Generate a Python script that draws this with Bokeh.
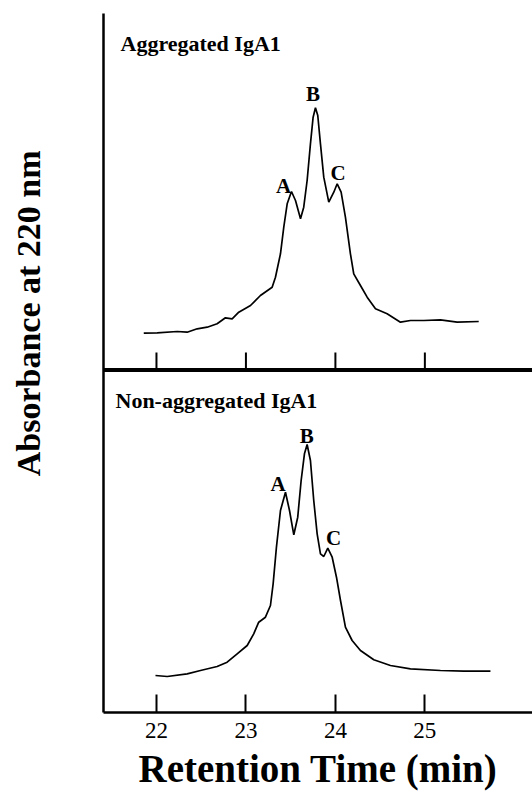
import math
from bokeh.plotting import figure
from bokeh.layouts import row
from bokeh.models import Range1d, FixedTicker, Span
from bokeh.core.properties import value
from bokeh.embed import file_html
from bokeh.resources import INLINE

# ---- data (retention time in min, absorbance at 220 nm in relative units) ----
agg_time = [21.858, 22.008, 22.231, 22.343, 22.455, 22.567, 22.678, 22.771, 22.846,
            22.920, 23.051, 23.162, 23.293, 23.330, 23.386, 23.423, 23.461, 23.509,
            23.554, 23.610, 23.646, 23.684, 23.721, 23.751, 23.777, 23.803, 23.833,
            23.870, 23.926, 23.982, 24.020, 24.064, 24.112, 24.168, 24.205, 24.280,
            24.355, 24.448, 24.578, 24.727, 24.839, 24.988, 25.174, 25.361, 25.602]
agg_abs = [36.3, 36.7, 38.0, 37.3, 40.7, 42.3, 45.7, 51.7, 50.7,
           57.3, 64.0, 74.0, 82.3, 92.3, 115.7, 142.3, 165.7, 178.0,
           169.0, 150.7, 162.3, 189.0, 225.7, 252.3, 261.7, 254.0, 225.7,
           192.3, 167.3, 177.3, 185.7, 177.3, 152.3, 115.7, 95.7, 84.0,
           72.3, 60.7, 55.7, 47.3, 49.0, 49.0, 49.7, 47.3, 48.0]

nonagg_time = [21.989, 22.120, 22.343, 22.492, 22.678, 22.790, 22.902, 23.014, 23.087,
               23.143, 23.218, 23.274, 23.304, 23.341, 23.386, 23.442, 23.487, 23.535,
               23.579, 23.617, 23.654, 23.684, 23.721, 23.758, 23.796, 23.833, 23.870,
               23.915, 23.964, 24.012, 24.057, 24.112, 24.187, 24.280, 24.429, 24.615,
               24.839, 25.174, 25.435, 25.733]
nonagg_abs = [37.0, 36.0, 38.7, 42.0, 46.0, 50.3, 58.7, 67.0, 78.7,
              90.3, 95.3, 107.0, 128.7, 165.3, 202.0, 220.3, 202.0, 177.7,
              195.3, 232.0, 258.7, 268.0, 252.0, 212.0, 178.7, 158.7, 156.0,
              164.3, 155.3, 135.3, 112.0, 85.3, 72.0, 62.0, 52.7, 47.0,
              43.7, 42.0, 41.3, 41.3]

peak_names = ["A", "B", "C"]
agg_peak_label_time = [23.42, 23.75, 24.03]
agg_peak_label_abs = [184, 276, 197]
nonagg_peak_label_time = [23.36, 23.68, 23.98]
nonagg_peak_label_abs = [229, 277, 175]

tick_values = [22, 23, 24, 25]
panel_titles = ["Aggregated IgA1", "Non-aggregated IgA1"]
x_title = "Retention Time (min)"
y_title = "Absorbance at 220 nm"

SERIF = "Liberation Serif"
H = 795
LABEL_W = 60

# ---- narrow strip carrying the y-axis title ----
lab = figure(width=LABEL_W, height=H, output_backend="svg", toolbar_location=None,
             x_range=Range1d(0, LABEL_W), y_range=Range1d(0, H),
             min_border=0)
lab.axis.visible = False
lab.grid.visible = False
lab.outline_line_color = None
lab.text(x=[28], y=[454], text=[y_title], angle=math.pi / 2,
         text_font=value(SERIF), text_font_style="bold", text_font_size="34px",
         text_align="center", text_baseline="alphabetic", text_color="black")

# ---- main chart ----
p = figure(width=532 - LABEL_W, height=H, output_backend="svg", toolbar_location=None,
           x_range=Range1d(21.408, 26.203), y_range=Range1d(0, 699),
           min_border_left=103 - LABEL_W, min_border_right=0, min_border_top=13,
           min_border_bottom=H - 712)
p.extra_y_ranges = {"top": Range1d(-343, 356)}
p.outline_line_color = None
p.grid.visible = False
p.background_fill_color = "white"
p.border_fill_color = "white"

# x axis (bottom panel)
xa = p.xaxis[0]
xa.ticker = FixedTicker(ticks=tick_values)
xa.major_tick_in = 18
xa.major_tick_out = 0
xa.minor_tick_in = 0
xa.minor_tick_out = 0
xa.major_tick_line_width = 2
xa.axis_line_width = 2.5
xa.major_label_text_font = SERIF
xa.major_label_text_font_size = "23px"
xa.major_label_text_color = "black"
xa.major_label_standoff = 10
xa.axis_label = x_title
xa.axis_label_text_font = SERIF
xa.axis_label_text_font_style = "bold"
xa.axis_label_text_font_size = "39px"
xa.axis_label_text_color = "black"
xa.axis_label_standoff = 6

# y axis: bare line
ya = p.yaxis[0]
ya.ticker = FixedTicker(ticks=[])
ya.major_tick_in = 0
ya.major_tick_out = 0
ya.minor_tick_in = 0
ya.minor_tick_out = 0
ya.major_label_text_font_size = "0px"
ya.axis_line_width = 2.5

# divider between the panels
p.add_layout(Span(location=342.5, dimension="width", line_color="black", line_width=4))
# inward ticks of the upper panel
p.segment(x0=tick_values, y0=[342.5] * len(tick_values), x1=tick_values,
          y1=[360] * len(tick_values), line_color="black", line_width=2)

# traces
p.line(agg_time, agg_abs, y_range_name="top", line_color="black", line_width=1.7)
p.line(nonagg_time, nonagg_abs, line_color="black", line_width=1.7)

# panel titles
p.text(x=[21.598], y=[325.7], text=[panel_titles[0]], y_range_name="top",
       text_font=value(SERIF), text_font_style="bold", text_font_size="22px",
       text_baseline="alphabetic", text_align="left", text_color="black")
p.text(x=[21.542], y=[312], text=[panel_titles[1]],
       text_font=value(SERIF), text_font_style="bold", text_font_size="22px",
       text_baseline="alphabetic", text_align="left", text_color="black")

# peak labels
p.text(x=agg_peak_label_time, y=agg_peak_label_abs, text=peak_names, y_range_name="top",
       text_font=value(SERIF), text_font_style="bold", text_font_size="21px",
       text_baseline="alphabetic", text_align="center", text_color="black")
p.text(x=nonagg_peak_label_time, y=nonagg_peak_label_abs, text=peak_names,
       text_font=value(SERIF), text_font_style="bold", text_font_size="21px",
       text_baseline="alphabetic", text_align="center", text_color="black")

layout = row(lab, p, spacing=0)
open("out.html", "w").write(file_html(layout, INLINE))
